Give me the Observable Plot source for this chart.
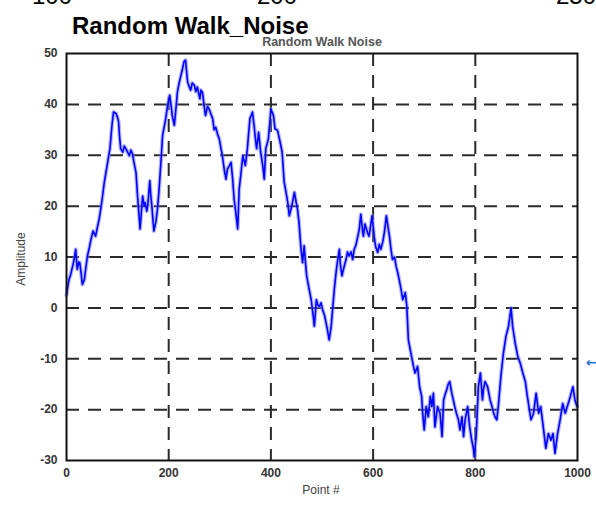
<!DOCTYPE html>
<html>
<head>
<meta charset="utf-8">
<script src="https://cdn.jsdelivr.net/npm/d3@7"></script>
<script src="https://cdn.jsdelivr.net/npm/@observablehq/plot@0.6"></script>
<style>
  html, body { margin: 0; padding: 0; background: #fff; }
  svg { display: block; }
</style>
</head>
<body>
<script>
// Sample index along the walk
const pointIndex = [
  0, 3, 5, 8, 12, 15, 18, 21, 24, 26, 29, 31, 35, 38, 41, 45, 48, 52, 57, 61,
  64, 67, 70, 74, 77, 80, 85, 89, 92, 97, 100, 102, 104, 106, 110, 113, 116, 120, 123, 126,
  129, 132, 136, 139, 142, 144, 147, 149, 152, 154, 157, 159, 163, 165, 167, 169, 171, 175, 178, 181,
  183, 186, 188, 193, 196, 198, 202, 205, 207, 211, 214, 217, 220, 224, 227, 230, 233, 235, 237, 240,
  243, 246, 250, 253, 256, 261, 263, 266, 269, 272, 276, 279, 283, 286, 289, 292, 296, 299, 302, 305,
  309, 312, 315, 319, 322, 325, 328, 331, 335, 338, 342, 345, 350, 354, 357, 359, 364, 367, 370, 372,
  376, 380, 384, 387, 390, 395, 398, 400, 405, 408, 413, 418, 422, 426, 430, 433, 436, 441, 446, 449,
  452, 455, 459, 462, 465, 468, 470, 475, 479, 482, 485, 489, 492, 495, 498, 501, 505, 508, 511, 514,
  518, 521, 524, 527, 530, 534, 536, 539, 543, 547, 550, 553, 557, 560, 563, 566, 570, 573, 576, 579,
  581, 584, 586, 589, 592, 595, 598, 602, 605, 609, 612, 615, 619, 622, 626, 629, 632, 635, 638, 642,
  645, 648, 651, 655, 658, 663, 666, 669, 674, 679, 682, 687, 691, 695, 697, 700, 704, 708, 712, 715,
  718, 721, 726, 731, 735, 738, 741, 744, 747, 750, 754, 757, 760, 763, 767, 770, 774, 777, 780, 783,
  785, 789, 793, 796, 798, 802, 806, 810, 814, 816, 819, 824, 829, 833, 836, 839, 842, 845, 850, 855,
  860, 865, 870, 873, 878, 883, 888, 893, 898, 901, 906, 909, 914, 919, 924, 928, 933, 938, 943, 948,
  952, 956, 961, 966, 971, 976, 980, 986, 991, 995, 999
];

// Amplitude at each sample
const amplitude = [
  2.5, 4.5, 5.6, 6.5, 8.2, 9.5, 11.5, 7.6, 9.0, 8.9, 6.5, 4.6, 5.6, 8.0, 10.2, 12.0, 13.5, 15.1, 14.1, 16.1,
  17.5, 19.4, 21.5, 24.7, 26.5, 28.3, 31.3, 35.9, 38.5, 38.2, 37.4, 36.5, 33.5, 31.3, 30.6, 31.8, 31.3, 30.5, 29.9, 31.0,
  30.3, 28.6, 26.6, 22.0, 18.1, 15.5, 19.5, 22.0, 20.0, 20.7, 19.0, 20.1, 25.0, 22.0, 20.1, 17.5, 15.1, 17.0, 19.4, 23.0,
  26.0, 30.5, 33.9, 36.5, 38.5, 39.8, 41.8, 39.5, 37.8, 35.9, 39.0, 42.4, 44.0, 45.7, 47.0, 48.4, 48.7, 46.5, 44.4, 43.5,
  42.8, 44.2, 43.8, 42.5, 43.4, 41.1, 42.8, 42.4, 40.0, 37.8, 39.6, 39.1, 38.0, 37.2, 35.0, 35.5, 34.0, 33.2, 31.5, 29.9,
  27.0, 25.3, 27.3, 28.0, 28.6, 25.5, 21.4, 19.0, 15.5, 23.4, 27.0, 29.9, 28.0, 31.3, 35.0, 37.2, 38.5, 35.9, 33.0, 31.3,
  34.5, 30.6, 28.0, 25.3, 31.3, 33.2, 36.5, 39.1, 37.8, 35.2, 34.9, 32.6, 30.6, 24.7, 22.5, 20.7, 18.1, 20.1, 22.7, 21.0,
  19.4, 16.8, 11.5, 8.9, 12.2, 8.5, 6.3, 3.6, 1.5, -1.0, -3.6, 1.6, 0.5, 0.3, 1.0, -0.3, -1.5, -3.0, -4.5, -6.3,
  -3.6, 0.0, 3.6, 6.5, 8.9, 11.5, 8.5, 6.3, 8.0, 9.5, 11.0, 10.2, 11.0, 9.5, 11.5, 12.2, 14.0, 15.5, 18.4, 15.5,
  14.1, 16.5, 15.8, 14.8, 14.1, 16.0, 18.1, 14.1, 12.0, 10.9, 12.5, 11.5, 13.0, 14.8, 18.1, 16.0, 14.1, 11.5, 9.5, 10.0,
  8.2, 7.0, 5.6, 3.5, 1.6, 3.0, 0.3, -6.3, -8.9, -11.5, -12.8, -11.5, -15.5, -17.4, -20.7, -24.0, -19.4, -21.4, -17.4, -19.4,
  -16.8, -23.4, -19.4, -20.7, -25.3, -18.1, -17.0, -16.1, -15.0, -14.5, -16.8, -18.1, -19.5, -20.7, -22.0, -24.0, -21.4, -25.3, -22.0, -20.5,
  -19.4, -23.4, -26.0, -27.5, -29.3, -24.7, -15.5, -12.8, -18.1, -16.0, -14.5, -15.5, -18.1, -19.5, -20.7, -21.5, -22.0, -19.4, -13.5, -8.9,
  -5.6, -3.6, 0.0, -3.6, -6.9, -9.5, -10.9, -12.8, -14.5, -16.8, -20.1, -22.0, -20.7, -16.8, -20.7, -19.4, -23.4, -27.6, -24.7, -26.0,
  -24.7, -28.6, -24.7, -22.0, -18.8, -20.7, -19.4, -17.4, -15.5, -18.1, -19.4
];

const xTicks = [0, 200, 400, 600, 800, 1000];
const yTicks = [-30, -20, -10, 0, 10, 20, 30, 40, 50];
const xGridTicks = [200, 400, 600, 800];
const yGridTicks = [-20, -10, 0, 10, 20, 30, 40];

const walk = pointIndex.map((p, i) => ({point: p, amp: amplitude[i]}));

const tickFont = "Liberation Sans, Arial, sans-serif";

const chart = Plot.plot({
  width: 596,
  height: 506,
  marginLeft: 66,
  marginRight: 19,
  marginTop: 53,
  marginBottom: 46,
  style: {background: "#fff", fontFamily: tickFont},
  x: {domain: [0, 1000], label: null},
  y: {domain: [-30, 50], label: null},
  marks: [
    Plot.ruleX(xGridTicks, {stroke: "#2a2a2a", strokeWidth: 2, strokeDasharray: "13,9"}),
    Plot.ruleY(yGridTicks, {stroke: "#2a2a2a", strokeWidth: 2, strokeDasharray: "13,9"}),
    Plot.line(walk, {x: "point", y: "amp", stroke: "#7b7bff", strokeOpacity: 0.55, strokeWidth: 4, curve: "linear"}),
    Plot.line(walk, {x: "point", y: "amp", stroke: "#0000ff", strokeWidth: 1.6, curve: "linear"}),
    Plot.frame({stroke: "#111", strokeWidth: 2}),
    Plot.axisX({ticks: xTicks, tickFormat: d => String(d), tickSize: 0, tickPadding: 8, fontSize: 12, fontWeight: "bold", fill: "#333", label: null}),
    Plot.axisY({ticks: yTicks, tickFormat: d => String(d), tickSize: 0, tickPadding: 9, fontSize: 12, fontWeight: "bold", fill: "#333", label: null})
  ]
});

document.body.appendChild(chart);

const svg = d3.select(chart);

// labels trimmed by the top edge
[["100", 52], ["200", 277], ["250", 576]].forEach(([t, x]) => {
  svg.append("text").text(t)
    .attr("x", x).attr("y", 4)
    .attr("text-anchor", "middle")
    .attr("font-family", tickFont)
    .attr("font-size", 24)
    .attr("fill", "#000");
});

// heading
svg.append("text").text("Random Walk_Noise")
  .attr("x", 72).attr("y", 34)
  .attr("text-anchor", "start")
  .attr("font-family", tickFont)
  .attr("font-size", 24)
  .attr("font-weight", "bold")
  .attr("fill", "#000");

// axes title
svg.append("text").text("Random Walk Noise")
  .attr("x", 322).attr("y", 46)
  .attr("text-anchor", "middle")
  .attr("font-family", tickFont)
  .attr("font-size", 12.5)
  .attr("font-weight", "bold")
  .attr("fill", "#555");

// axis labels
svg.append("text").text("Amplitude")
  .attr("transform", "translate(25,259) rotate(-90)")
  .attr("text-anchor", "middle")
  .attr("font-family", tickFont)
  .attr("font-size", 12)
  .attr("fill", "#444");

svg.append("text").text("Point #")
  .attr("x", 321).attr("y", 494)
  .attr("text-anchor", "middle")
  .attr("font-family", tickFont)
  .attr("font-size", 12)
  .attr("fill", "#444");

// small blue pointer at the right edge
svg.append("text").text("\u2190")
  .attr("x", 597).attr("y", 367)
  .attr("text-anchor", "end")
  .attr("font-family", "DejaVu Sans, sans-serif")
  .attr("font-size", 13)
  .attr("font-weight", "bold")
  .attr("fill", "#2a6fd6");
</script>
</body>
</html>
